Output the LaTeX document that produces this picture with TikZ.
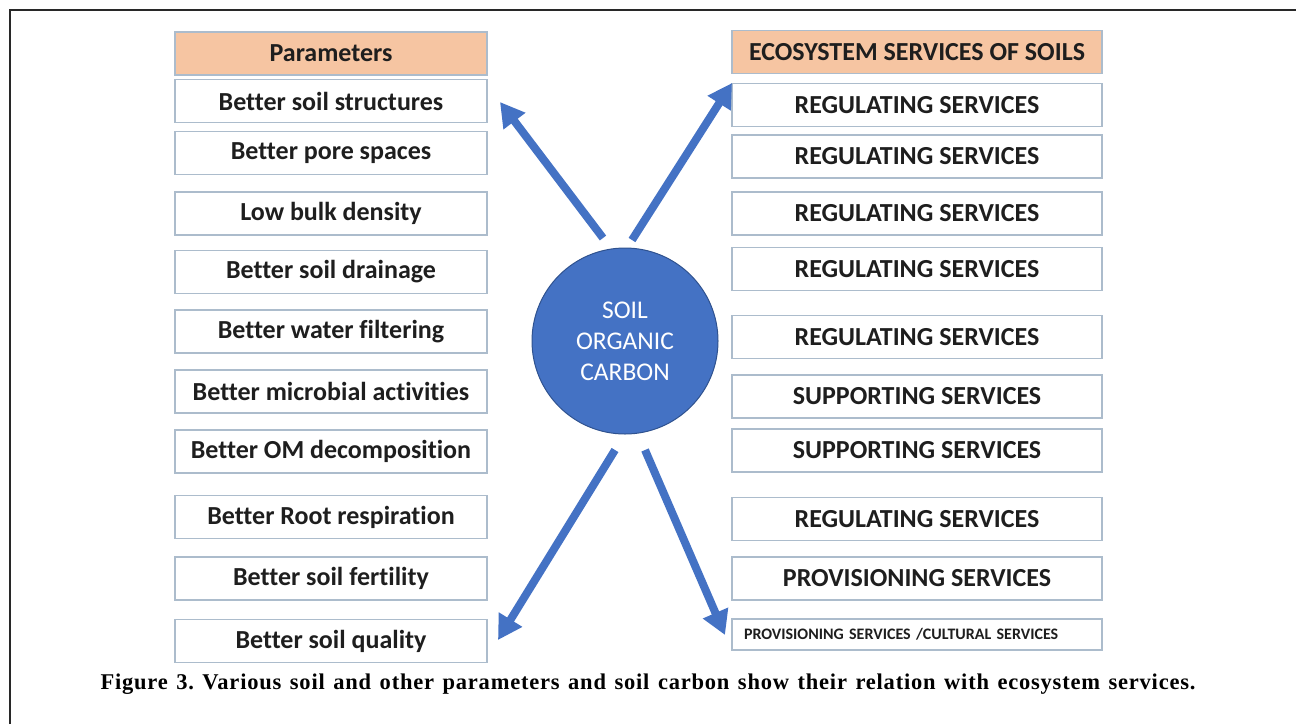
\documentclass[tikz,border=0pt]{standalone}
\usepackage{fontspec}
\setmainfont{Carlito}[Ligatures=NoCommon]
\newfontfamily\capfont[LetterSpace=3.5]{Liberation Serif}
\usetikzlibrary{arrows.meta}

\definecolor{socblue}{RGB}{68,114,196}
\definecolor{socedge}{RGB}{47,82,143}
\definecolor{boxedge}{RGB}{172,188,204}
\definecolor{headfill}{RGB}{246,197,162}
\definecolor{boxtext}{RGB}{30,30,30}
\definecolor{framegray}{RGB}{40,40,40}

\tikzset{
  cell/.style={draw=boxedge, line width=1.6pt, fill=white, text=boxtext,
    font=\bfseries\fontsize{26}{28}\selectfont, inner sep=0pt,
    minimum height=43pt, anchor=center},
  leftcell/.style={cell, minimum width=312pt},
  rightcell/.style={cell, minimum width=370pt},
  headcell/.style={fill=headfill},
  bigarrow/.style={draw=socblue, line width=8pt,
    -{Triangle[length=24pt, width=26pt]}},
}

\begin{document}
\frenchspacing
\begin{tikzpicture}[x=1pt, y=-1pt]
\useasboundingbox (0,0) rectangle (1296,724);

% page frame (top and left rules)
\draw[framegray, line width=1.3pt] (10,724) -- (10,10) -- (1296,10);

% parameter column
\node[leftcell, headcell] (par)  at (331,53.5)  {Parameters};
\node[leftcell] (p1)  at (331,101)   {Better soil structures};
\node[leftcell] (p2)  at (331,153)   {Better pore spaces};
\node[leftcell] (p3)  at (331,213.5) {Low bulk density};
\node[leftcell] (p4)  at (331,272)   {Better soil drainage};
\node[leftcell] (p5)  at (331,331.5) {Better water filtering};
\node[leftcell] (p6)  at (331,391.5) {Better microbial activities};
\node[leftcell] (p7)  at (331,451.5) {Better OM decomposition};
\node[leftcell] (p8)  at (331,517)   {Better Root respiration};
\node[leftcell] (p9)  at (331,578.5) {Better soil fertility};
\node[leftcell] (p10) at (331,641)   {Better soil quality};

% ecosystem services column
\node[rightcell, headcell] (ess) at (917,52) {ECOSYSTEM SERVICES OF SOILS};
\node[rightcell] (s1)  at (917,105)   {REGULATING SERVICES};
\node[rightcell] (s2)  at (917,156.5) {REGULATING SERVICES};
\node[rightcell] (s3)  at (917,213.5) {REGULATING SERVICES};
\node[rightcell] (s4)  at (917,269)   {REGULATING SERVICES};
\node[rightcell] (s5)  at (917,337)   {REGULATING SERVICES};
\node[rightcell] (s6)  at (917,396.5) {SUPPORTING SERVICES};
\node[rightcell] (s7)  at (917,450.5) {SUPPORTING SERVICES};
\node[rightcell] (s8)  at (917,519)   {REGULATING SERVICES};
\node[rightcell] (s9)  at (917,578.5) {PROVISIONING SERVICES};
\node[rightcell, minimum height=31pt, font=\bfseries\fontsize{16}{18}\selectfont,
      align=left, text width=346pt] (s10) at (917,634.5)
      {PROVISIONING SERVICES /CULTURAL SERVICES};

% central circle
\node[circle, draw=socedge, line width=1pt, fill=socblue, minimum size=186pt,
      inner sep=0pt, text=white, align=center,
      font=\fontsize{25.5}{31}\selectfont] (soc) at (625,341)
      {SOIL\\ORGANIC\\CARBON};

% arrow end points
\coordinate (ulA) at (603,238);  \coordinate (ulB) at (500,102);
\coordinate (urA) at (632,240);  \coordinate (urB) at (732,83);
\coordinate (llA) at (615,450);  \coordinate (llB) at (498,640);
\coordinate (lrA) at (645,450);  \coordinate (lrB) at (725,635);

\draw[bigarrow] (ulA) -- (ulB);
\draw[bigarrow] (urA) -- (urB);
\draw[bigarrow] (llA) -- (llB);
\draw[bigarrow] (lrA) -- (lrB);

% caption
\node[anchor=center, text=black] (cap) at (648,684)
  {\capfont\bfseries\fontsize{22.5}{24}\selectfont
   \makebox[1095pt][s]{Figure 3. Various soil and other parameters and soil carbon show their relation with ecosystem services.}};
\end{tikzpicture}
\end{document}
